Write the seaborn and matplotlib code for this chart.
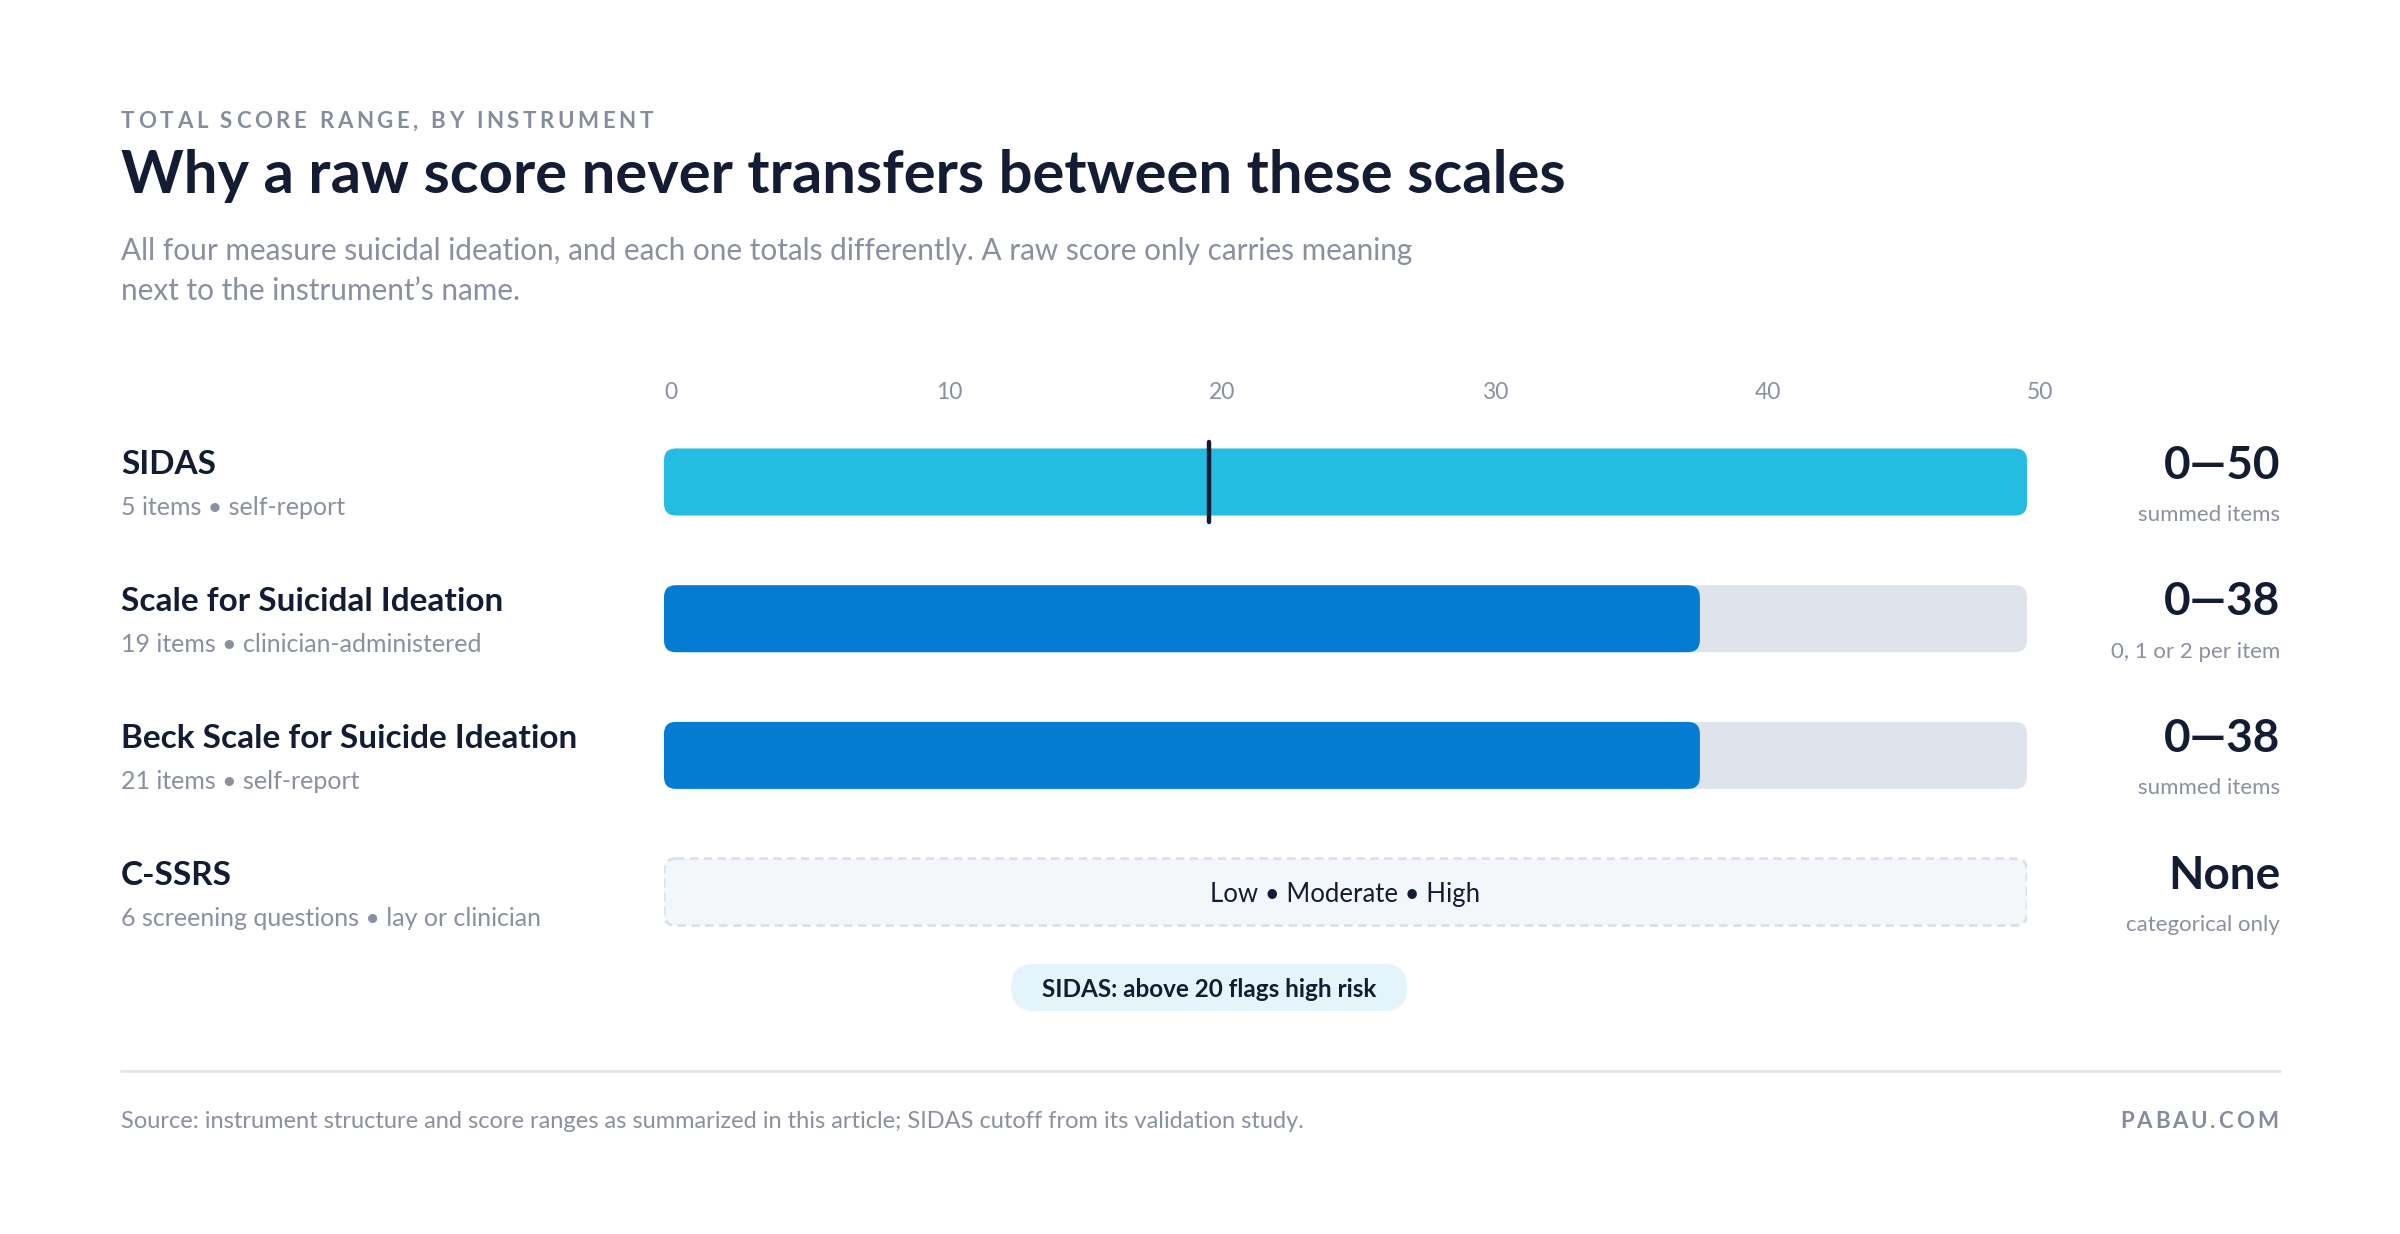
import numpy as np
import pandas as pd
import matplotlib.pyplot as plt
import seaborn as sns
from matplotlib.patches import FancyBboxPatch
from matplotlib.transforms import blended_transform_factory

# Dados do gráfico
instruments = ["SIDAS", "Scale for Suicidal Ideation",
               "Beck Scale for Suicide Ideation", "C-SSRS"]
details = ["5 items • self-report", "19 items • clinician-administered",
           "21 items • self-report", "6 screening questions • lay or clinician"]
max_scores = [50, 38, 38, np.nan]
range_labels = ["0—50", "0—38", "0—38", "None"]
range_notes = ["summed items", "0, 1 or 2 per item", "summed items", "categorical only"]
axis_ticks = [0, 10, 20, 30, 40, 50]
axis_max = 50
sidas_cutoff = 20
cssrs_levels = ["Low", "Moderate", "High"]

# Cores
DARK = "#141C33"
GREY = "#8A90A0"
KICKER = "#858D9D"
CYAN = "#25BCE1"
BLUE = "#057CD3"
TRACK = "#DFE3EC"
bar_colors = [CYAN, BLUE, BLUE, BLUE]

sns.set_style("white")
plt.rcParams['font.family'] = ['Lato', 'DejaVu Sans']

W, H = 2400, 1234
fig = plt.figure(figsize=(W / 100, H / 100), dpi=100)
fig.patch.set_facecolor("white")
renderer = fig.canvas.get_renderer()


def fx(x):
    return x / W


def fy(y):
    return 1 - y / H


def text_width(s, **kw):
    t = fig.text(0, 0, s, **kw)
    w = t.get_window_extent(renderer).width
    t.remove()
    return w


def spaced_text(x_px, y_px, s, tracking, ha='left', **kw):
    # matplotlib não tem espaçamento entre letras: desenha letra por letra
    widths = []
    for ch in s:
        if ch == " ":
            widths.append(text_width("a a", **kw) - text_width("aa", **kw))
        else:
            widths.append(text_width(ch, **kw))
    total = sum(widths) + tracking * (len(s) - 1)
    x = x_px - total if ha == 'right' else x_px
    for ch, w in zip(s, widths):
        fig.text(fx(x), fy(y_px), ch, ha='left', va='center', **kw)
        x += w + tracking


# Área das barras (pixels da referência)
left_px, right_px = 664, 2027
row_px = 136.7
top_px = 482 - row_px / 2
bottom_px = top_px + 4 * row_px
ax = fig.add_axes([fx(left_px), fy(bottom_px), fx(right_px - left_px), (bottom_px - top_px) / H])

bar_h = 0.49
df = pd.DataFrame({'instrument': instruments, 'max_score': max_scores})
df['track'] = np.where(df['max_score'].notna(), axis_max, np.nan)

sns.barplot(data=df, y='instrument', x='track', order=instruments, color=TRACK,
            width=bar_h, errorbar=None, orient='h', saturation=1, ax=ax)
sns.barplot(data=df, y='instrument', x='max_score', order=instruments, hue='instrument',
            hue_order=instruments, palette=bar_colors, width=bar_h, errorbar=None,
            legend=False, orient='h', saturation=1, ax=ax)

ax.set_xlim(0, axis_max)
ax.set_ylim(3.5, -0.5)
ax.axis('off')

# Trocar retângulos por barras arredondadas
px_per_x = (right_px - left_px) / axis_max
radius_px = 12
rounding = radius_px / px_per_x
aspect = px_per_x / row_px
for p in list(ax.patches):
    x0, y0, w, h = p.get_x(), p.get_y(), p.get_width(), p.get_height()
    fc = p.get_facecolor()
    p.remove()
    if not np.isfinite(w) or w <= 0:
        continue
    ax.add_patch(FancyBboxPatch((x0, y0), w, h,
                                boxstyle=f"round,pad=0,rounding_size={rounding}",
                                mutation_aspect=aspect, fc=fc, ec='none', zorder=2))

# Linha de corte do SIDAS
ax.plot([sidas_cutoff, sidas_cutoff], [-40 / row_px, 40 / row_px], color=DARK, lw=3.2,
        solid_capstyle='round', zorder=4, clip_on=False)

# C-SSRS sem pontuação: caixa tracejada
cssrs_row = instruments.index("C-SSRS")
ax.add_patch(FancyBboxPatch((0, cssrs_row - bar_h / 2), axis_max, bar_h,
                            boxstyle=f"round,pad=0,rounding_size={rounding}",
                            mutation_aspect=aspect, fc="#F3F7FA", ec="#DCE0E7",
                            lw=2, ls=(0, (3, 2)), zorder=2))
ax.text(axis_max / 2, cssrs_row + 2 / row_px, " • ".join(cssrs_levels), ha='center',
        va='center', fontsize=18.5, color=DARK, zorder=3)

# Rótulos do eixo
for t in axis_ticks:
    ax.text(t, -0.5 - 21 / row_px, str(t), ha='left', va='center', fontsize=16.5,
            color=GREY, clip_on=False)

# Pílula da nota, centrada no corte
pill_y = 3.5 + 27 / row_px
pill_w, pill_h = 396 / px_per_x, 47 / row_px
ax.add_patch(FancyBboxPatch((sidas_cutoff - pill_w / 2, pill_y - pill_h / 2), pill_w, pill_h,
                            boxstyle=f"round,pad=0,rounding_size={23 / px_per_x}",
                            mutation_aspect=aspect, fc="#E3F5FB", ec='none',
                            clip_on=False, zorder=2))
ax.text(sidas_cutoff, pill_y + 2 / row_px, "SIDAS: above 20 flags high risk", ha='center',
        va='center', fontsize=17.5, fontweight='bold', color=DARK, clip_on=False, zorder=3)

# Nomes à esquerda e faixas à direita
tr = blended_transform_factory(fig.transFigure, ax.transData)
for i, name in enumerate(instruments):
    fig.text(fx(121), i - 0.125, name, transform=tr, ha='left', va='center',
             fontsize=24, fontweight='bold', color=DARK)
    fig.text(fx(121), i + 0.19, details[i], transform=tr, ha='left', va='center',
             fontsize=18, color=GREY)
    fig.text(fx(2280), i - 0.12, range_labels[i], transform=tr, ha='right', va='center',
             fontsize=33, fontweight='bold', color=DARK)
    fig.text(fx(2280), i + 0.24, range_notes[i], transform=tr, ha='right', va='center',
             fontsize=16, color=GREY)

# Cabeçalho
spaced_text(121, 121, "TOTAL SCORE RANGE, BY INSTRUMENT", 3.6,
            fontsize=16, fontweight='bold', color=KICKER)
fig.text(fx(121), fy(176), "Why a raw score never transfers between these scales",
         ha='left', va='center', fontsize=43, fontweight='bold', color=DARK)
fig.text(fx(121), fy(251), "All four measure suicidal ideation, and each one totals differently. "
         "A raw score only carries meaning", ha='left', va='center', fontsize=21.4, color=GREY)
fig.text(fx(121), fy(291), "next to the instrument’s name.", ha='left', va='center',
         fontsize=21.4, color=GREY)

# Rodapé
fig.add_artist(plt.Line2D([fx(121), fx(2280)], [fy(1071), fy(1071)], color="#E3E5EA", lw=2))
fig.text(fx(121), fy(1122), "Source: instrument structure and score ranges as summarized in this "
         "article; SIDAS cutoff from its validation study.", ha='left', va='center',
         fontsize=17, color=GREY)
spaced_text(2278, 1122, "PABAU.COM", 2.9, ha='right', fontsize=16, fontweight='bold',
            color=KICKER)

plt.savefig('out.png', dpi=100, facecolor='white')
